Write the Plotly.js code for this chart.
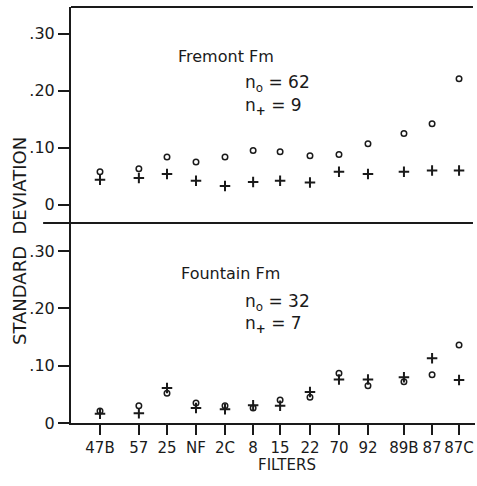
<!DOCTYPE html>
<html>
<head>
<meta charset="utf-8">
<script src="https://cdn.plot.ly/plotly-3.0.1.min.js"></script>
<style>html,body{margin:0;padding:0;background:#fff;}#chart{width:477px;height:486px;}</style>
</head>
<body>
<div id="chart"></div>
<script>
// Filters and their positions along the axis
const filters = ["47B","57","25","NF","2C","8","15","22","70","92","89B","87","87C"];
const filterPos = [0, 1.34, 2.31, 3.31, 4.31, 5.28, 6.21, 7.24, 8.24, 9.24, 10.48, 11.45, 12.38];

// Fremont Fm (top panel)
const fremontCircle = [0.058, 0.063, 0.084, 0.075, 0.084, 0.095, 0.093, 0.086, 0.088, 0.107, 0.125, 0.142, 0.221];
const fremontPlus   = [0.044, 0.047, 0.054, 0.042, 0.033, 0.040, 0.042, 0.039, 0.058, 0.054, 0.058, 0.060, 0.060];

// Fountain Fm (bottom panel)
const fountainCircle = [0.021, 0.030, 0.052, 0.035, 0.030, 0.026, 0.040, 0.045, 0.087, 0.065, 0.072, 0.084, 0.136];
const fountainPlus   = [0.016, 0.017, 0.061, 0.026, 0.024, 0.031, 0.030, 0.054, 0.076, 0.076, 0.080, 0.113, 0.075];

const yTickVals = [0, 0.1, 0.2, 0.3];
const yTickText = ["0", ".10", ".20", ".30"];

const ink = "#1a1a1a";
const fontFam = "'DejaVu Sans', sans-serif";

const circleMarker = {symbol: "circle-open", size: 5.5, color: ink, line: {width: 1.5, color: ink}};
const plusMarker = {symbol: "cross-thin", size: 7.5, color: ink, line: {width: 2, color: ink}};

const traces = [
  {x: filterPos, y: fremontCircle, xaxis: "x2", yaxis: "y2", mode: "markers", marker: circleMarker, showlegend: false},
  {x: filterPos, y: fremontPlus, xaxis: "x2", yaxis: "y2", mode: "markers", marker: plusMarker, showlegend: false},
  {x: filterPos, y: fountainCircle, xaxis: "x", yaxis: "y", mode: "markers", marker: circleMarker, showlegend: false},
  {x: filterPos, y: fountainPlus, xaxis: "x", yaxis: "y", mode: "markers", marker: plusMarker, showlegend: false}
];

const splitY = 0.4808;
const xRange = [-1.0, 12.93];

const yCommon = {
  tickvals: yTickVals, ticktext: yTickText, ticks: "outside", ticklen: 11, tickwidth: 2, tickcolor: ink,
  showline: true, linewidth: 2, linecolor: ink, showgrid: false, zeroline: false,
  tickfont: {family: fontFam, size: 16, color: ink}
};

const layout = {
  width: 477, height: 486,
  margin: {l: 71, r: 2, t: 7, b: 63},
  paper_bgcolor: "#fff", plot_bgcolor: "#fff",
  font: {family: fontFam, color: ink},
  xaxis: {
    domain: [0, 1], range: xRange, anchor: "y",
    tickvals: filterPos, ticktext: filters, ticks: "outside", ticklen: 10, tickwidth: 2, tickcolor: ink,
    showline: true, linewidth: 2, linecolor: ink, showgrid: false, zeroline: false,
    tickfont: {family: fontFam, size: 15, color: ink}
  },
  xaxis2: {domain: [0, 1], range: xRange, anchor: "y2", visible: false},
  yaxis: Object.assign({domain: [0, splitY], range: [0, 0.349], anchor: "x"}, yCommon),
  yaxis2: Object.assign({domain: [splitY, 1], range: [-0.032, 0.347], anchor: "x2"}, yCommon),
  shapes: [
    {type: "line", xref: "paper", yref: "paper", x0: -0.069, x1: 0.995, y0: splitY, y1: splitY, line: {color: ink, width: 2}},
    {type: "line", xref: "paper", yref: "paper", x0: 0, x1: 0.995, y0: 1, y1: 1, line: {color: ink, width: 2}}
  ],
  annotations: [
    {text: "Fremont Fm", xref: "paper", yref: "paper", x: (226-71)/404, y: (423-56)/416, showarrow: false, xanchor: "center", yanchor: "middle", font: {size: 16, family: fontFam, color: ink}},
    {text: "n<sub>o</sub> = 62", xref: "paper", yref: "paper", x: (243-71)/404, y: (423-83)/416, showarrow: false, xanchor: "left", yanchor: "middle", font: {size: 17, family: fontFam, color: ink}},
    {text: "n<sub><b>+</b></sub> = 9", xref: "paper", yref: "paper", x: (243-71)/404, y: (423-106)/416, showarrow: false, xanchor: "left", yanchor: "middle", font: {size: 17, family: fontFam, color: ink}},
    {text: "Fountain Fm", xref: "paper", yref: "paper", x: (230-71)/404, y: (423-273)/416, showarrow: false, xanchor: "center", yanchor: "middle", font: {size: 16, family: fontFam, color: ink}},
    {text: "n<sub>o</sub> = 32", xref: "paper", yref: "paper", x: (243-71)/404, y: (423-302)/416, showarrow: false, xanchor: "left", yanchor: "middle", font: {size: 17, family: fontFam, color: ink}},
    {text: "n<sub><b>+</b></sub> = 7", xref: "paper", yref: "paper", x: (243-71)/404, y: (423-324)/416, showarrow: false, xanchor: "left", yanchor: "middle", font: {size: 17, family: fontFam, color: ink}},
    {text: "FILTERS", xref: "paper", yref: "paper", x: (287-71)/404, y: (423-465)/416, showarrow: false, xanchor: "center", yanchor: "middle", font: {size: 15, family: fontFam, color: ink}},
    {text: "STANDARD&nbsp;&nbsp;DEVIATION", xref: "paper", yref: "paper", x: (19-71)/404, y: (423-241)/416, showarrow: false, textangle: -90, xanchor: "center", yanchor: "middle", font: {size: 18, family: fontFam, color: ink}}
  ]
};

Plotly.newPlot("chart", traces, layout, {displayModeBar: false, staticPlot: true});
</script>
</body>
</html>
